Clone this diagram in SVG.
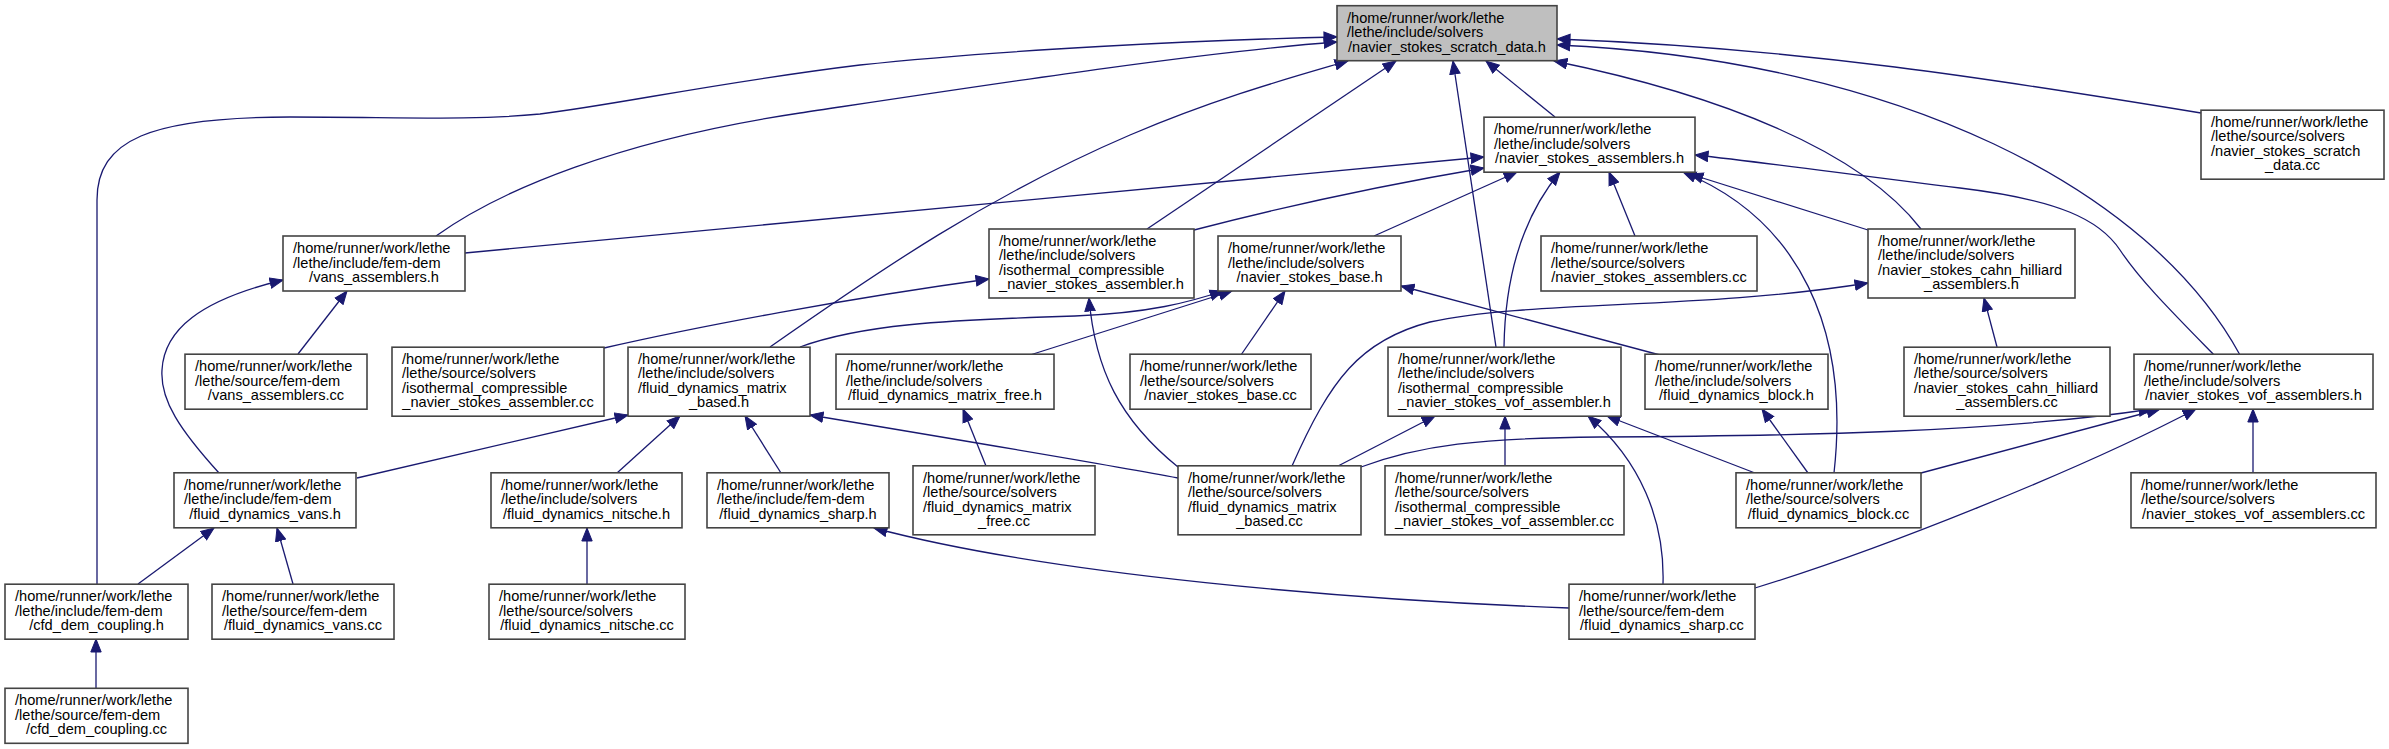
<svg xmlns="http://www.w3.org/2000/svg" width="2389" height="749" viewBox="0 0 2389 749">
<style>
.node rect{fill:#fff;stroke:#444;stroke-width:1.6}
.root rect{fill:#bfbfbf}
.node text{font-family:"Liberation Sans",Arial,sans-serif;font-size:14.6px;fill:#000}
.node text.c{text-anchor:middle}
.e{fill:none;stroke:#191970;stroke-width:1.3;marker-end:url(#a)}
</style>
<defs>
<marker id="a" markerUnits="userSpaceOnUse" markerWidth="14" markerHeight="12" viewBox="0 -6 13 12" refX="13" refY="0" orient="auto">
<path d="M0,-5.2 L13,0 L0,5.2 z" fill="#191970" stroke="#191970" stroke-width="1"/>
</marker>
</defs>
<rect width="2389" height="749" fill="#fff"/>
<g id="edges">
<path class="e" d="M97,584 C97,400 97,260 97,200 C97,140 150,117 290,117 C400,117 470,121 540,114 C620,104 720,82 860,65 C1000,50 1200,40 1337,37"/>
<path class="e" d="M436,236 C500,190 620,140 800,113 C980,86 1200,52 1337,42"/>
<path class="e" d="M465,253 L1484,157"/>
<path class="e" d="M770,347 C880,270 990,195 1130,135 C1220,97 1290,78 1348,61"/>
<path class="e" d="M1147,229 L1396,61"/>
<path class="e" d="M1496,347 L1453,61"/>
<path class="e" d="M1555,117 L1486,61"/>
<path class="e" d="M2201,113 C2000,80 1800,48 1557,39"/>
<path class="e" d="M2240,355 C2150,190 1900,60 1557,45"/>
<path class="e" d="M1921,229 C1860,150 1720,95 1554,61"/>
<path class="e" d="M1194,230 C1290,205 1390,184 1484,168"/>
<path class="e" d="M1374,236 L1517,172"/>
<path class="e" d="M1504,347 C1505,280 1520,220 1560,172"/>
<path class="e" d="M1635,236 L1609,172"/>
<path class="e" d="M1834,473 C1850,330 1800,220 1683,172"/>
<path class="e" d="M1868,230 L1690,174"/>
<path class="e" d="M2214,355 C2170,310 2140,280 2120,250 C2100,220 2060,200 1960,188 C1860,176 1770,163 1695,155"/>
<path class="e" d="M604,348 C700,326 850,298 989,279"/>
<path class="e" d="M1178,467 C1120,420 1095,370 1089,298"/>
<path class="e" d="M800,347 C860,325 940,320 1075,316 C1150,313 1190,302 1223,291"/>
<path class="e" d="M1030,355 L1232,291"/>
<path class="e" d="M1241,355 L1285,291"/>
<path class="e" d="M1660,355 L1401,286"/>
<path class="e" d="M219,473 C180,430 160,400 162,370 C164,330 200,300 283,280"/>
<path class="e" d="M298,354 L347,291"/>
<path class="e" d="M357,478 L628,415"/>
<path class="e" d="M617,473 L680,416"/>
<path class="e" d="M781,473 L745,416"/>
<path class="e" d="M1178,478 C1110,465 900,430 810,415"/>
<path class="e" d="M986,466 L963,409"/>
<path class="e" d="M1338,466 L1435,416"/>
<path class="e" d="M1505,466 L1505,416"/>
<path class="e" d="M1755,473 L1607,416"/>
<path class="e" d="M1663,584 C1665,520 1640,460 1588,416"/>
<path class="e" d="M1997,347 L1984,298"/>
<path class="e" d="M1292,466 C1330,380 1360,340 1430,322 C1530,300 1700,310 1868,283"/>
<path class="e" d="M1808,473 L1762,409"/>
<path class="e" d="M1361,467 C1420,445 1480,438 1600,437 C1800,436 2000,432 2152,409"/>
<path class="e" d="M1921,473 L2160,409"/>
<path class="e" d="M1755,588 C1880,550 2080,470 2196,409"/>
<path class="e" d="M2253,473 L2253,409"/>
<path class="e" d="M138,584 L214,528"/>
<path class="e" d="M293,584 L277,528"/>
<path class="e" d="M587,584 L587,528"/>
<path class="e" d="M1569,608 C1350,600 1050,575 874,528"/>
<path class="e" d="M96,688 L96,639"/>
</g>
<g id="n_root" class="node root"><rect x="1337" y="5.7" width="220" height="55"/><text x="1347" y="22.7">/home/runner/work/lethe</text><text x="1347" y="37.2">/lethe/include/solvers</text><text class="c" x="1447" y="51.7">/navier_stokes_scratch_data.h</text></g>
<g id="n_nsa_h" class="node"><rect x="1484" y="117.2" width="211" height="55"/><text x="1494" y="134.2">/home/runner/work/lethe</text><text x="1494" y="148.7">/lethe/include/solvers</text><text class="c" x="1589.5" y="163.2">/navier_stokes_assemblers.h</text></g>
<g id="n_nssd_cc" class="node"><rect x="2201" y="110.2" width="183" height="69"/><text x="2211" y="126.95">/home/runner/work/lethe</text><text x="2211" y="141.45">/lethe/source/solvers</text><text x="2211" y="155.95">/navier_stokes_scratch</text><text class="c" x="2292.5" y="170.45">_data.cc</text></g>
<g id="n_vans_asm_h" class="node"><rect x="283" y="236" width="182" height="55"/><text x="293" y="253">/home/runner/work/lethe</text><text x="293" y="267.5">/lethe/include/fem-dem</text><text class="c" x="374" y="282">/vans_assemblers.h</text></g>
<g id="n_iso_asm_h" class="node"><rect x="989" y="229" width="205" height="69"/><text x="999" y="245.75">/home/runner/work/lethe</text><text x="999" y="260.25">/lethe/include/solvers</text><text x="999" y="274.75">/isothermal_compressible</text><text class="c" x="1091.5" y="289.25">_navier_stokes_assembler.h</text></g>
<g id="n_nsb_h" class="node"><rect x="1218" y="236" width="183" height="55"/><text x="1228" y="253">/home/runner/work/lethe</text><text x="1228" y="267.5">/lethe/include/solvers</text><text class="c" x="1309.5" y="282">/navier_stokes_base.h</text></g>
<g id="n_nsa_cc" class="node"><rect x="1541" y="236" width="216" height="55"/><text x="1551" y="253">/home/runner/work/lethe</text><text x="1551" y="267.5">/lethe/source/solvers</text><text class="c" x="1649" y="282">/navier_stokes_assemblers.cc</text></g>
<g id="n_ch_h" class="node"><rect x="1868" y="229" width="207" height="69"/><text x="1878" y="245.75">/home/runner/work/lethe</text><text x="1878" y="260.25">/lethe/include/solvers</text><text x="1878" y="274.75">/navier_stokes_cahn_hilliard</text><text class="c" x="1971.5" y="289.25">_assemblers.h</text></g>
<g id="n_vans_asm_cc" class="node"><rect x="185" y="354.2" width="182" height="55"/><text x="195" y="371.2">/home/runner/work/lethe</text><text x="195" y="385.7">/lethe/source/fem-dem</text><text class="c" x="276" y="400.2">/vans_assemblers.cc</text></g>
<g id="n_iso_asm_cc" class="node"><rect x="392" y="347.2" width="212" height="69"/><text x="402" y="363.95">/home/runner/work/lethe</text><text x="402" y="378.45">/lethe/source/solvers</text><text x="402" y="392.95">/isothermal_compressible</text><text class="c" x="498" y="407.45">_navier_stokes_assembler.cc</text></g>
<g id="n_fdmb_h" class="node"><rect x="628" y="347.2" width="182" height="69"/><text x="638" y="363.95">/home/runner/work/lethe</text><text x="638" y="378.45">/lethe/include/solvers</text><text x="638" y="392.95">/fluid_dynamics_matrix</text><text class="c" x="719" y="407.45">_based.h</text></g>
<g id="n_fdmf_h" class="node"><rect x="836" y="354.2" width="218" height="55"/><text x="846" y="371.2">/home/runner/work/lethe</text><text x="846" y="385.7">/lethe/include/solvers</text><text class="c" x="945" y="400.2">/fluid_dynamics_matrix_free.h</text></g>
<g id="n_nsb_cc" class="node"><rect x="1130" y="354.2" width="181" height="55"/><text x="1140" y="371.2">/home/runner/work/lethe</text><text x="1140" y="385.7">/lethe/source/solvers</text><text class="c" x="1220.5" y="400.2">/navier_stokes_base.cc</text></g>
<g id="n_iso_vof_h" class="node"><rect x="1388" y="347.2" width="233" height="69"/><text x="1398" y="363.95">/home/runner/work/lethe</text><text x="1398" y="378.45">/lethe/include/solvers</text><text x="1398" y="392.95">/isothermal_compressible</text><text class="c" x="1504.5" y="407.45">_navier_stokes_vof_assembler.h</text></g>
<g id="n_fdb_h" class="node"><rect x="1645" y="354.2" width="183" height="55"/><text x="1655" y="371.2">/home/runner/work/lethe</text><text x="1655" y="385.7">/lethe/include/solvers</text><text class="c" x="1736.5" y="400.2">/fluid_dynamics_block.h</text></g>
<g id="n_ch_cc" class="node"><rect x="1904" y="347.2" width="206" height="69"/><text x="1914" y="363.95">/home/runner/work/lethe</text><text x="1914" y="378.45">/lethe/source/solvers</text><text x="1914" y="392.95">/navier_stokes_cahn_hilliard</text><text class="c" x="2007" y="407.45">_assemblers.cc</text></g>
<g id="n_nsvof_h" class="node"><rect x="2134" y="354.2" width="239" height="55"/><text x="2144" y="371.2">/home/runner/work/lethe</text><text x="2144" y="385.7">/lethe/include/solvers</text><text class="c" x="2253.5" y="400.2">/navier_stokes_vof_assemblers.h</text></g>
<g id="n_fdv_h" class="node"><rect x="174" y="472.8" width="182" height="55"/><text x="184" y="489.8">/home/runner/work/lethe</text><text x="184" y="504.3">/lethe/include/fem-dem</text><text class="c" x="265" y="518.8">/fluid_dynamics_vans.h</text></g>
<g id="n_fdn_h" class="node"><rect x="491" y="472.8" width="191" height="55"/><text x="501" y="489.8">/home/runner/work/lethe</text><text x="501" y="504.3">/lethe/include/solvers</text><text class="c" x="586.5" y="518.8">/fluid_dynamics_nitsche.h</text></g>
<g id="n_fds_h" class="node"><rect x="707" y="472.8" width="182" height="55"/><text x="717" y="489.8">/home/runner/work/lethe</text><text x="717" y="504.3">/lethe/include/fem-dem</text><text class="c" x="798" y="518.8">/fluid_dynamics_sharp.h</text></g>
<g id="n_fdmf_cc" class="node"><rect x="913" y="465.8" width="182" height="69"/><text x="923" y="482.55">/home/runner/work/lethe</text><text x="923" y="497.05">/lethe/source/solvers</text><text x="923" y="511.55">/fluid_dynamics_matrix</text><text class="c" x="1004" y="526.05">_free.cc</text></g>
<g id="n_fdmb_cc" class="node"><rect x="1178" y="465.8" width="183" height="69"/><text x="1188" y="482.55">/home/runner/work/lethe</text><text x="1188" y="497.05">/lethe/source/solvers</text><text x="1188" y="511.55">/fluid_dynamics_matrix</text><text class="c" x="1269.5" y="526.05">_based.cc</text></g>
<g id="n_iso_vof_cc" class="node"><rect x="1385" y="465.8" width="239" height="69"/><text x="1395" y="482.55">/home/runner/work/lethe</text><text x="1395" y="497.05">/lethe/source/solvers</text><text x="1395" y="511.55">/isothermal_compressible</text><text class="c" x="1504.5" y="526.05">_navier_stokes_vof_assembler.cc</text></g>
<g id="n_fdb_cc" class="node"><rect x="1736" y="472.8" width="185" height="55"/><text x="1746" y="489.8">/home/runner/work/lethe</text><text x="1746" y="504.3">/lethe/source/solvers</text><text class="c" x="1828.5" y="518.8">/fluid_dynamics_block.cc</text></g>
<g id="n_nsvof_cc" class="node"><rect x="2131" y="472.8" width="245" height="55"/><text x="2141" y="489.8">/home/runner/work/lethe</text><text x="2141" y="504.3">/lethe/source/solvers</text><text class="c" x="2253.5" y="518.8">/navier_stokes_vof_assemblers.cc</text></g>
<g id="n_cfd_h" class="node"><rect x="5" y="584.2" width="183" height="55"/><text x="15" y="601.2">/home/runner/work/lethe</text><text x="15" y="615.7">/lethe/include/fem-dem</text><text class="c" x="96.5" y="630.2">/cfd_dem_coupling.h</text></g>
<g id="n_fdv_cc" class="node"><rect x="212" y="584.2" width="182" height="55"/><text x="222" y="601.2">/home/runner/work/lethe</text><text x="222" y="615.7">/lethe/source/fem-dem</text><text class="c" x="303" y="630.2">/fluid_dynamics_vans.cc</text></g>
<g id="n_fdn_cc" class="node"><rect x="489" y="584.2" width="196" height="55"/><text x="499" y="601.2">/home/runner/work/lethe</text><text x="499" y="615.7">/lethe/source/solvers</text><text class="c" x="587" y="630.2">/fluid_dynamics_nitsche.cc</text></g>
<g id="n_fds_cc" class="node"><rect x="1569" y="584.2" width="186" height="55"/><text x="1579" y="601.2">/home/runner/work/lethe</text><text x="1579" y="615.7">/lethe/source/fem-dem</text><text class="c" x="1662" y="630.2">/fluid_dynamics_sharp.cc</text></g>
<g id="n_cfd_cc" class="node"><rect x="5" y="688.3" width="183" height="55"/><text x="15" y="705.3">/home/runner/work/lethe</text><text x="15" y="719.8">/lethe/source/fem-dem</text><text class="c" x="96.5" y="734.3">/cfd_dem_coupling.cc</text></g>
</svg>
